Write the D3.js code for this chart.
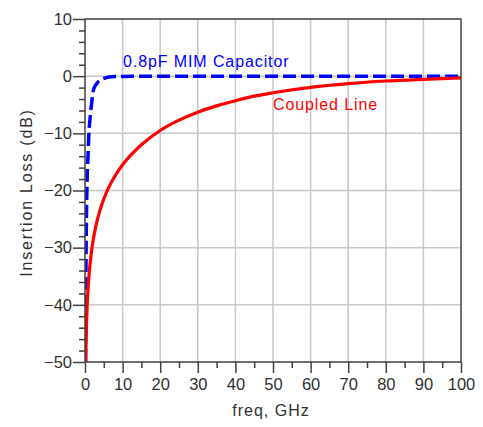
<!DOCTYPE html>
<html>
<head>
<meta charset="utf-8">
<script src="https://cdn.jsdelivr.net/npm/d3@7"></script>
<style>
  body { margin: 0; background: #fff; }
  svg text { font-family: "Liberation Sans", Arial, sans-serif; }
</style>
</head>
<body>
<svg id="chart" width="483" height="427"></svg>
<script>
  /***** Data *****/
  // frequency in GHz, insertion loss in dB
  var capFreq = [0.15, 0.2, 0.3, 0.5, 0.8, 1, 1.4, 1.8, 2.2, 3, 4, 5.5, 7, 10, 20, 40, 60, 80, 100];
  var capLoss = [-50, -40, -30, -20, -14, -10.5, -7, -4.5, -2.5, -1.4, -0.7, -0.3, -0.1, -0.05, 0, 0, 0, 0, 0];

  var lineFreq = [0.18, 0.3, 0.6, 1, 1.8, 2.9, 4, 6, 8, 10, 12.5, 15, 20, 25, 30, 35, 40, 45, 50, 60, 70, 80, 90, 100];
  var lineLoss = [-50, -45.8, -39.8, -35.4, -30.3, -26.2, -23.4, -19.9, -17.45, -15.5, -13.6, -12, -9.5, -7.7, -6.3, -5.2, -4.3, -3.5, -2.9, -1.95, -1.3, -0.85, -0.55, -0.3];

  var xTicks = [0, 10, 20, 30, 40, 50, 60, 70, 80, 90, 100];
  var yTicks = [10, 0, -10, -20, -30, -40, -50];

(function (d3) {
  "use strict";

  /***** Configuration *****/
  var plotLeft = 85, plotRight = 461, plotTop = 19, plotBottom = 362;
  var svg = d3.select("#chart");

  var x = d3.scaleLinear().domain([0, 100]).range([plotLeft, plotRight]);
  var y = d3.scaleLinear().domain([-50, 10]).range([plotBottom, plotTop]);

  // grid lines
  var grid = svg.append("g").attr("stroke", "#c8c8c8").attr("stroke-width", 1.5);
  grid.selectAll(".gx").data(xTicks.slice(1, -1)).enter().append("line")
    .attr("x1", x).attr("x2", x).attr("y1", plotTop).attr("y2", plotBottom);
  grid.selectAll(".gy").data(yTicks.slice(1, -1)).enter().append("line")
    .attr("y1", y).attr("y2", y).attr("x1", plotLeft).attr("x2", plotRight);

  // axes
  var xAxis = d3.axisBottom(x).tickValues(xTicks).tickSize(11).tickPadding(5);
  var xMinor = d3.axisBottom(x).tickValues(d3.range(5, 100, 10)).tickSize(6).tickFormat("");
  var yAxis = d3.axisLeft(y).tickValues(yTicks).tickSize(12).tickPadding(1);
  var yMinor = d3.axisLeft(y).tickValues(d3.range(-48, 10, 2).filter(function (v) { return v % 10 != 0; }))
    .tickSize(6).tickFormat("");

  function styleAxis(g) {
    g.select(".domain").remove();
    g.selectAll("line").attr("stroke", "#404040").attr("stroke-width", 1.5);
    g.selectAll("text").attr("fill", "#303030").style("font-size", "16.5px");
  }

  svg.append("g").attr("transform", "translate(0," + plotBottom + ")").call(xAxis).call(styleAxis);
  svg.append("g").attr("transform", "translate(0," + plotBottom + ")").call(xMinor).call(styleAxis);
  svg.append("g").attr("transform", "translate(" + plotLeft + ",0)").call(yAxis).call(styleAxis);
  svg.append("g").attr("transform", "translate(" + plotLeft + ",0)").call(yMinor).call(styleAxis);

  /***** Curves *****/
  var line = d3.line()
    .x(function (d) { return x(d[0]); })
    .y(function (d) { return y(d[1]); })
    .curve(d3.curveMonotoneX);

  svg.append("clipPath").attr("id", "plotClip").append("rect")
    .attr("x", plotLeft).attr("y", plotTop)
    .attr("width", plotRight - plotLeft + 2).attr("height", plotBottom - plotTop);

  var plot = svg.append("g").attr("clip-path", "url(#plotClip)");

  plot.append("path")
    .datum(d3.zip(capFreq, capLoss))
    .attr("d", line)
    .attr("fill", "none")
    .attr("stroke", "#0000ff")
    .attr("stroke-width", 3.5)
    .attr("stroke-dasharray", "13,5");

  plot.append("path")
    .datum(d3.zip(lineFreq, lineLoss))
    .attr("d", line)
    .attr("fill", "none")
    .attr("stroke", "#ff0000")
    .attr("stroke-width", 3.2);

  // frame
  svg.append("rect")
    .attr("x", plotLeft).attr("y", plotTop)
    .attr("width", plotRight - plotLeft).attr("height", plotBottom - plotTop)
    .attr("fill", "none").attr("stroke", "#404040").attr("stroke-width", 1.5);

  /***** Labels *****/
  svg.append("text").attr("x", 123).attr("y", 67)
    .attr("fill", "#0000ff").style("font-size", "16px").style("letter-spacing", "0.9px")
    .text("0.8pF MIM Capacitor");

  svg.append("text").attr("x", 273).attr("y", 110)
    .attr("fill", "#ff0000").style("font-size", "16px").style("letter-spacing", "0.9px")
    .text("Coupled Line");

  svg.append("text").attr("x", 271).attr("y", 416)
    .attr("text-anchor", "middle").attr("fill", "#303030")
    .style("font-size", "16px").style("letter-spacing", "1px")
    .text("freq, GHz");

  svg.append("text")
    .attr("transform", "translate(31.5,192.5) rotate(-90)")
    .attr("text-anchor", "middle").attr("fill", "#303030")
    .style("font-size", "16px").style("letter-spacing", "1.8px")
    .text("Insertion Loss (dB)");
})(d3);
</script>
</body>
</html>
